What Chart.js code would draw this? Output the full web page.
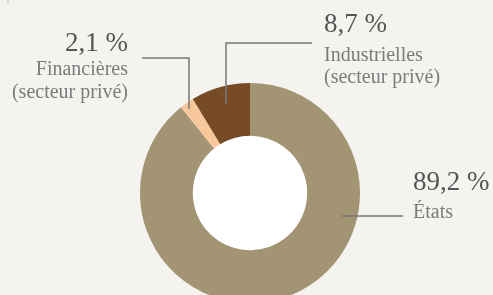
<!DOCTYPE html>
<html lang="fr">
<head>
    <meta charset="UTF-8">
    <title>Répartition</title>
    <script src="https://cdn.jsdelivr.net/npm/chart.js"></script>
    <style>
        html, body { margin: 0; padding: 0; background: #f4f3ef; }
        .wrap { position: relative; width: 493px; height: 295px; overflow: hidden; }
        canvas { position: absolute; left: 0; top: 0; }
        .lbl { position: absolute; font-family: "Liberation Serif", serif; white-space: nowrap; }
        .num { font-size: 27px; line-height: 27px; color: #555; }
        .txt { font-size: 20px; line-height: 20px; color: #7b7b7b; }
        .r { text-align: right; }
    </style>
</head>
<body>
    <div class="wrap">
        <canvas id="donut" width="493" height="386"></canvas>
        <div class="lbl num r" style="right:365px; top:29px">2,1 %</div>
        <div class="lbl txt r" style="right:365px; top:58px">Financières</div>
        <div class="lbl txt r" style="right:365px; top:81px">(secteur privé)</div>
        <div class="lbl num" style="left:324px; top:10px">8,7 %</div>
        <div class="lbl txt" style="left:324px; top:44px">Industrielles</div>
        <div class="lbl txt" style="left:324px; top:66px">(secteur privé)</div>
        <div class="lbl num" style="left:413px; top:168px">89,2 %</div>
        <div class="lbl txt" style="left:413px; top:201px">États</div>
    </div>

    <script>
        // data
        const categories = ['États', 'Financières (secteur privé)', 'Industrielles (secteur privé)'];
        const shares = [89.2, 2.1, 8.7];
        const sliceColors = ['#a39473', '#f8c89c', '#774b26'];

        // leader lines (annotation only)
        const leaders = [
            [[142, 58], [189, 58], [189, 109]],
            [[312, 43], [226, 43], [226, 104]],
            [[342, 216], [403, 216]],
            [[8, 0], [8, 4]]
        ];

        const whiteHole = {
            id: 'whiteHole',
            beforeDatasetsDraw(chart) {
                const arc = chart.getDatasetMeta(0).data[0];
                const c = chart.ctx;
                c.save();
                c.fillStyle = '#ffffff';
                c.beginPath();
                c.arc(arc.x, arc.y, arc.innerRadius, 0, Math.PI * 2);
                c.fill();
                c.restore();
            }
        };

        const leaderLines = {
            id: 'leaderLines',
            afterDatasetsDraw(chart) {
                const c = chart.ctx;
                c.save();
                leaders.forEach((pts, i) => {
                    c.strokeStyle = i === 3 ? '#d8d4cc' : '#777777';
                    c.lineWidth = 1.5;
                    c.beginPath();
                    pts.forEach((p, j) => {
                        if (j === 0) c.moveTo(p[0], p[1]); else c.lineTo(p[0], p[1]);
                    });
                    c.stroke();
                });
                c.restore();
            }
        };

        const ctx = document.getElementById('donut').getContext('2d');
        const chart = new Chart(ctx, {
            type: 'doughnut',
            data: {
                labels: categories,
                datasets: [{
                    data: shares,
                    backgroundColor: sliceColors,
                    borderWidth: 0
                }]
            },
            options: {
                responsive: false,
                animation: false,
                cutout: '52%',
                layout: { padding: { left: 140, right: 133, top: 0, bottom: 0 } },
                plugins: {
                    legend: { display: false },
                    tooltip: { enabled: false }
                }
            },
            plugins: [whiteHole, leaderLines]
        });
    </script>
</body>
</html>
